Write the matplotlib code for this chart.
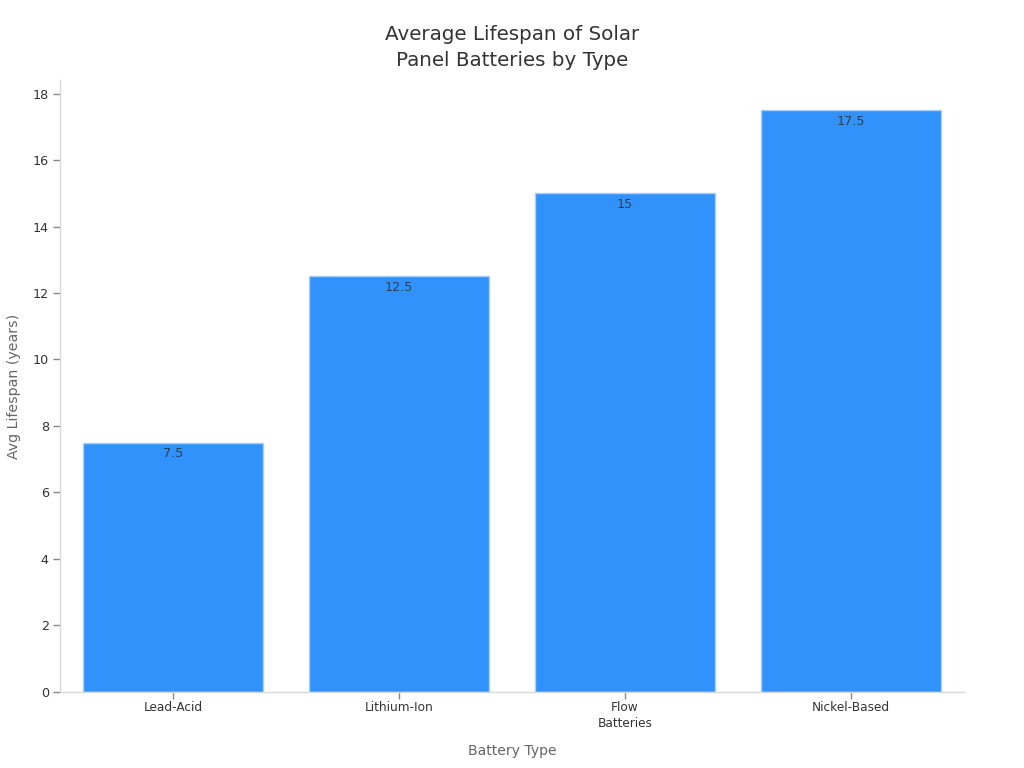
import matplotlib
matplotlib.use("Agg")
import matplotlib.pyplot as plt

battery_types = ["Lead-Acid", "Lithium-Ion", "Flow\nBatteries", "Nickel-Based"]
lifespans = [7.5, 12.5, 15, 17.5]
value_labels = ["7.5", "12.5", "15", "17.5"]
y_ticks = [0, 2, 4, 6, 8, 10, 12, 14, 16, 18]

fig = plt.figure(figsize=(10.24, 7.68), dpi=100)
ax = fig.add_axes([60 / 1024, 1 - 691.7 / 768, 904 / 1024, 611.7 / 768])

bars = ax.bar(range(len(battery_types)), lifespans, width=0.8, color="#3092FA",
              edgecolor="#A9D0FA", linewidth=1)
ax.set_xlim(-0.5, 3.5)
ax.set_ylim(0, 18.41)

# value labels sit just inside the top of each bar
ax.bar_label(bars, labels=value_labels, label_type="edge", padding=-12.5,
             fontsize=9.2, color="#2F3F55")

ax.set_xticks(range(len(battery_types)))
ax.set_xticklabels(battery_types, fontsize=8.7, color="#333333", linespacing=1.3)
ax.set_yticks(y_ticks)
ax.tick_params(axis="y", labelsize=9.2, labelcolor="#333333", color="#888888", length=5, width=1, pad=3)
ax.tick_params(axis="x", color="#888888", length=5, width=1, pad=2)

for side in ["top", "right"]:
    ax.spines[side].set_visible(False)
for side in ["left", "bottom"]:
    ax.spines[side].set_color("#D8D8D8")
    ax.spines[side].set_linewidth(1)

fig.text(512 / 1024, 1 - 750.5 / 768, "Battery Type", ha="center", va="center",
         fontsize=10.1, color="#666666")
fig.text(14 / 1024, 1 - 386 / 768, "Avg Lifespan (years)", ha="center", va="center",
         rotation=90, fontsize=10.2, color="#666666")
fig.text(512 / 1024, 1 - 47.5 / 768, "Average Lifespan of Solar\nPanel Batteries by Type",
         ha="center", va="center", fontsize=14.35, color="#333333", linespacing=1.47)

fig.savefig("out.png", dpi=100)
